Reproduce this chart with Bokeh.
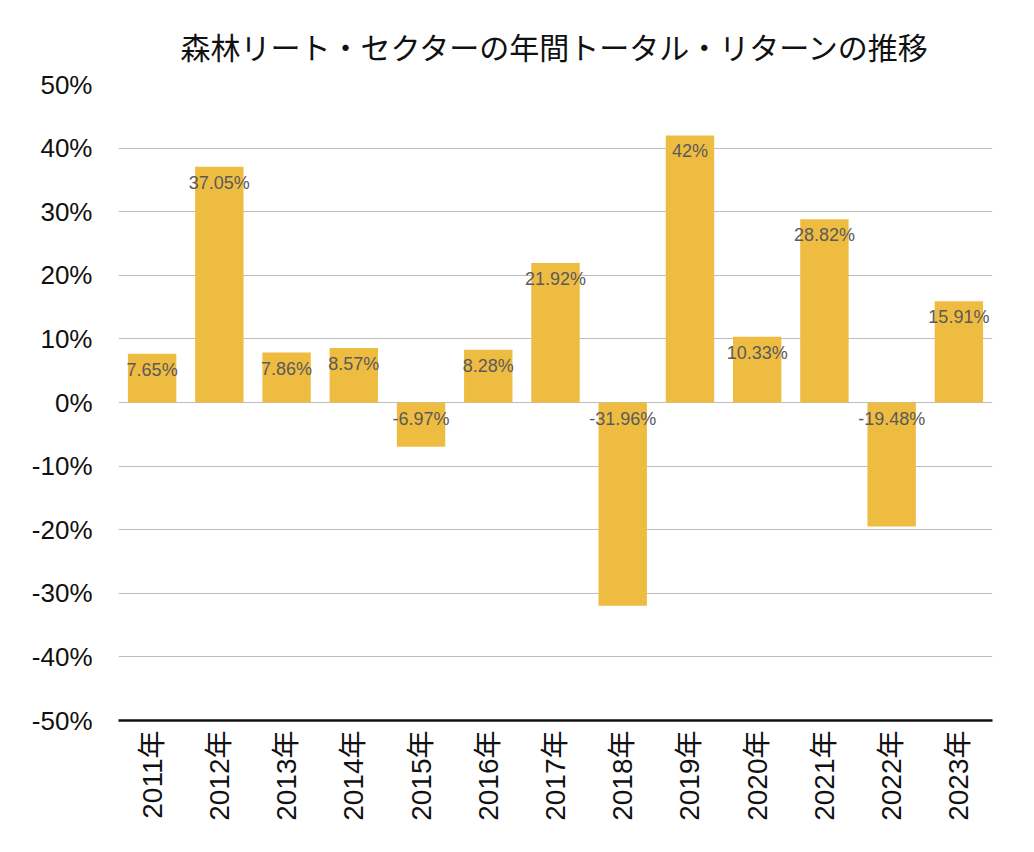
from bokeh.plotting import figure
from bokeh.models import ColumnDataSource, FactorRange, Range1d, FixedTicker, PrintfTickFormatter, Title
from bokeh.core.properties import value
from bokeh.embed import file_html
from bokeh.resources import INLINE
import math

years = ["2011年", "2012年", "2013年", "2014年", "2015年", "2016年", "2017年",
         "2018年", "2019年", "2020年", "2021年", "2022年", "2023年"]
returns = [7.65, 37.05, 7.86, 8.57, -6.97, 8.28, 21.92, -31.96, 42, 10.33, 28.82, -19.48, 15.91]
labels = ["7.65%", "37.05%", "7.86%", "8.57%", "-6.97%", "8.28%", "21.92%",
          "-31.96%", "42%", "10.33%", "28.82%", "-19.48%", "15.91%"]
y_ticks = [-50, -40, -30, -20, -10, 0, 10, 20, 30, 40, 50]

title_text = "森林リート・セクターの年間トータル・リターンの推移"

FONT = "'Liberation Sans', 'Noto Sans CJK JP'"

src = ColumnDataSource(dict(
    x=years,
    top=returns,
    label=labels,
    label_y=[max(v, 0) for v in returns],
))

p = figure(
    width=1034, height=852,
    x_range=FactorRange(*years, range_padding=0),
    y_range=Range1d(-50, 50),
    output_backend="svg", toolbar_location=None,
    min_border_left=118, min_border_right=42, min_border_bottom=132, min_border_top=84,
)
p.title = Title(text=title_text, align="center", text_font_size="30px",
                text_font="Noto Sans CJK JP", text_font_style="normal",
                text_color="#111111", standoff=34)
p.outline_line_color = None

p.vbar(x="x", top="top", bottom=0, width=0.72, source=src,
       fill_color="#EFBC42", line_color=None)

p.text(x="x", y="label_y", text="label", source=src,
       text_align="center", text_baseline="middle", y_offset=16,
       text_font=value(FONT), text_font_size="18px", text_color="#5A5A5A")

p.xgrid.grid_line_color = None
p.ygrid.ticker = FixedTicker(ticks=y_ticks)
p.ygrid.grid_line_color = "#BDBDBD"
p.ygrid.grid_line_width = 1

p.yaxis.ticker = FixedTicker(ticks=y_ticks)
p.yaxis.formatter = PrintfTickFormatter(format="%d%%")
p.yaxis.axis_line_color = None
p.yaxis.major_tick_line_color = None
p.yaxis.minor_tick_line_color = None
p.yaxis.major_tick_out = 0
p.yaxis.major_tick_in = 0
p.yaxis.major_label_standoff = 26
p.yaxis.major_label_text_font = FONT
p.yaxis.major_label_text_font_size = "26px"
p.yaxis.major_label_text_color = "#111111"

p.xaxis.axis_line_color = "#111111"
p.xaxis.axis_line_width = 2.5
p.xaxis.major_tick_line_color = None
p.xaxis.major_tick_out = 0
p.xaxis.major_tick_in = 0
p.xaxis.major_label_orientation = math.pi / 2
p.xaxis.major_label_standoff = 10
p.xaxis.major_label_text_font = FONT
p.xaxis.major_label_text_font_size = "28px"
p.xaxis.major_label_text_color = "#111111"

open("out.html", "w").write(file_html(p, INLINE))
